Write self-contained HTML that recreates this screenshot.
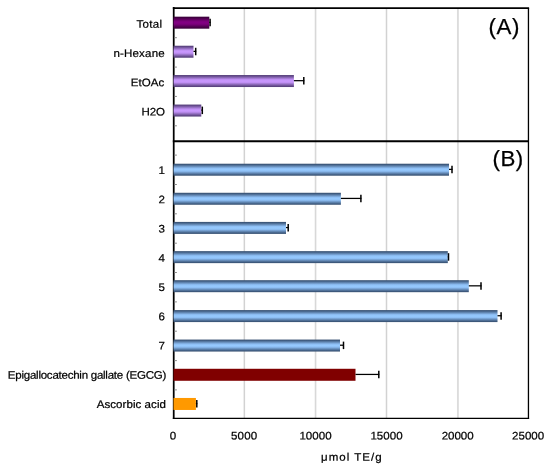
<!DOCTYPE html>
<html lang="en">
<head>
<meta charset="utf-8">
<title>Chart</title>
<style>
html,body{margin:0;padding:0;background:#fff;}
body{width:550px;height:471px;overflow:hidden;}
svg{display:block;}
text{font-family:"Liberation Sans","IPAGothic",sans-serif;fill:#000;stroke:#000;stroke-width:0.22px;}
.lab{font-size:11px;}
.big{font-size:22.3px;stroke-width:0.25px;}
</style>
</head>
<body>
<svg width="550" height="471" viewBox="0 0 550 471">
<defs>
<linearGradient id="blu" x1="0" y1="0" x2="0" y2="1">
<stop offset="0" stop-color="#395272"/><stop offset="0.07" stop-color="#3e5a7e"/><stop offset="0.38" stop-color="#8ebff5"/><stop offset="0.5" stop-color="#96caff"/><stop offset="0.62" stop-color="#8ebff5"/><stop offset="0.93" stop-color="#3e5a7e"/><stop offset="1" stop-color="#395272"/>
</linearGradient>
<linearGradient id="pur" x1="0" y1="0" x2="0" y2="1">
<stop offset="0" stop-color="#56407a"/><stop offset="0.07" stop-color="#5e4684"/><stop offset="0.38" stop-color="#c090f4"/><stop offset="0.5" stop-color="#ca98ff"/><stop offset="0.62" stop-color="#c090f4"/><stop offset="0.93" stop-color="#5e4684"/><stop offset="1" stop-color="#56407a"/>
</linearGradient>
<linearGradient id="tot" x1="0" y1="0" x2="0" y2="1">
<stop offset="0" stop-color="#380038"/><stop offset="0.07" stop-color="#400040"/><stop offset="0.38" stop-color="#7c007c"/><stop offset="0.5" stop-color="#820082"/><stop offset="0.62" stop-color="#7c007c"/><stop offset="0.93" stop-color="#400040"/><stop offset="1" stop-color="#380038"/>
</linearGradient>
</defs>
<rect width="550" height="471" fill="#fff"/>

<g>
<line x1="244.35" y1="8.0" x2="244.35" y2="418.35" stroke="#d2d2d2" stroke-width="1.5"/>
<line x1="315.55" y1="8.0" x2="315.55" y2="418.35" stroke="#d8d8d8" stroke-width="1.6"/>
<line x1="386.50" y1="8.0" x2="386.50" y2="418.35" stroke="#d2d2d2" stroke-width="1.5"/>
<line x1="457.90" y1="8.0" x2="457.90" y2="418.35" stroke="#dcdcdc" stroke-width="1.9"/>
</g>
<path d="M173.72 7.1V419.0" stroke="#000" stroke-width="1.75" fill="none"/>
<g stroke="#8a8a8a" stroke-width="1">
<line x1="174.5" y1="37.7" x2="176.9" y2="37.7"/>
<line x1="174.5" y1="67.1" x2="176.9" y2="67.1"/>
<line x1="174.5" y1="96.4" x2="176.9" y2="96.4"/>
<line x1="174.5" y1="125.8" x2="176.9" y2="125.8"/>
<line x1="174.5" y1="155.1" x2="176.9" y2="155.1"/>
<line x1="174.5" y1="184.5" x2="176.9" y2="184.5"/>
<line x1="174.5" y1="213.8" x2="176.9" y2="213.8"/>
<line x1="174.5" y1="243.2" x2="176.9" y2="243.2"/>
<line x1="174.5" y1="272.5" x2="176.9" y2="272.5"/>
<line x1="174.5" y1="301.9" x2="176.9" y2="301.9"/>
<line x1="174.5" y1="331.2" x2="176.9" y2="331.2"/>
<line x1="174.5" y1="360.6" x2="176.9" y2="360.6"/>
<line x1="174.5" y1="389.9" x2="176.9" y2="389.9"/>
</g>
<rect x="173.52" y="16.68" width="35.78" height="12.0" fill="url(#tot)"/>
<path d="M209.3 22.33H210.6" stroke="#000" stroke-width="1.25" fill="none"/><path d="M210.1 18.73V26.23" stroke="#000" stroke-width="1.5" fill="none"/>
<rect x="173.52" y="45.73" width="19.98" height="12.0" fill="url(#pur)"/>
<path d="M193.5 51.38H196.2" stroke="#000" stroke-width="1.25" fill="none"/><path d="M195.7 47.78V55.28" stroke="#000" stroke-width="1.5" fill="none"/>
<rect x="173.52" y="75.03" width="120.38" height="12.0" fill="url(#pur)"/>
<path d="M293.9 80.68H304.3" stroke="#000" stroke-width="1.25" fill="none"/><path d="M303.8 77.08V84.58" stroke="#000" stroke-width="1.5" fill="none"/>
<rect x="173.52" y="104.55" width="27.78" height="12.0" fill="url(#pur)"/>
<path d="M201.3 110.20H202.8" stroke="#000" stroke-width="1.25" fill="none"/><path d="M202.3 106.60V114.10" stroke="#000" stroke-width="1.5" fill="none"/>
<rect x="173.52" y="163.72" width="275.48" height="12.0" fill="url(#blu)"/>
<path d="M449.0 169.37H452.5" stroke="#000" stroke-width="1.25" fill="none"/><path d="M452.0 165.77V173.27" stroke="#000" stroke-width="1.5" fill="none"/>
<rect x="173.52" y="192.77" width="167.38" height="12.0" fill="url(#blu)"/>
<path d="M340.9 198.42H361.4" stroke="#000" stroke-width="1.25" fill="none"/><path d="M360.9 194.82V202.32" stroke="#000" stroke-width="1.5" fill="none"/>
<rect x="173.52" y="221.91" width="112.48" height="12.0" fill="url(#blu)"/>
<path d="M286.0 227.56H288.7" stroke="#000" stroke-width="1.25" fill="none"/><path d="M288.2 223.96V231.46" stroke="#000" stroke-width="1.5" fill="none"/>
<rect x="173.52" y="251.13" width="274.28" height="12.0" fill="url(#blu)"/>
<path d="M447.8 256.78H449.0" stroke="#000" stroke-width="1.25" fill="none"/><path d="M448.5 253.18V260.68" stroke="#000" stroke-width="1.5" fill="none"/>
<rect x="173.52" y="280.18" width="295.28" height="12.0" fill="url(#blu)"/>
<path d="M468.8 285.83H481.5" stroke="#000" stroke-width="1.25" fill="none"/><path d="M481.0 282.23V289.73" stroke="#000" stroke-width="1.5" fill="none"/>
<rect x="173.52" y="310.08" width="323.98" height="12.0" fill="url(#blu)"/>
<path d="M497.5 315.73H501.6" stroke="#000" stroke-width="1.25" fill="none"/><path d="M501.1 312.13V319.63" stroke="#000" stroke-width="1.5" fill="none"/>
<rect x="173.52" y="339.56" width="166.48" height="12.0" fill="url(#blu)"/>
<path d="M340.0 345.21H344.0" stroke="#000" stroke-width="1.25" fill="none"/><path d="M343.5 341.61V349.11" stroke="#000" stroke-width="1.5" fill="none"/>
<rect x="173.52" y="368.78" width="181.98" height="12.0" fill="#800000"/>
<path d="M355.5 374.43H379.3" stroke="#000" stroke-width="1.25" fill="none"/><path d="M378.8 370.83V378.33" stroke="#000" stroke-width="1.5" fill="none"/>
<rect x="173.52" y="397.96" width="22.38" height="12.0" fill="#ff9900"/>
<path d="M195.9 403.61H197.3" stroke="#000" stroke-width="1.25" fill="none"/><path d="M196.8 400.01V407.51" stroke="#000" stroke-width="1.5" fill="none"/>
<path d="M172.87 8.0H529.1" stroke="#000" stroke-width="1.75" fill="none"/>
<path d="M172.82 141.2H528.45" stroke="#000" stroke-width="2" fill="none"/>
<path d="M528.45 8.0V419.0" stroke="#000" stroke-width="1.3" fill="none"/>
<path d="M172.82 418.35H529.1" stroke="#000" stroke-width="1.3" fill="none"/>
<text id="l0" class="lab" transform="matrix(1.05 0.0006 0 1 136.40 27.70)" letter-spacing="0.329">Total</text>
<text id="l1" class="lab" transform="matrix(1.05 0.0006 0 1 113.42 56.95)" letter-spacing="0.162">n-Hexane</text>
<text id="l2" class="lab" transform="matrix(1.05 0.0006 0 1 130.73 86.20)" letter-spacing="0.036">EtOAc</text>
<text id="l3" class="lab" transform="matrix(1.05 0.0006 0 1 141.50 115.45)" letter-spacing="-0.085">H2O</text>
<text id="l5" class="lab" transform="matrix(1.05 0.0006 0 1 158.40 173.95)" letter-spacing="0.000">1</text>
<text id="l6" class="lab" transform="matrix(1.05 0.0006 0 1 158.40 203.20)" letter-spacing="0.000">2</text>
<text id="l7" class="lab" transform="matrix(1.05 0.0006 0 1 158.40 232.45)" letter-spacing="0.000">3</text>
<text id="l8" class="lab" transform="matrix(1.05 0.0006 0 1 158.40 261.70)" letter-spacing="0.000">4</text>
<text id="l9" class="lab" transform="matrix(1.05 0.0006 0 1 158.40 290.95)" letter-spacing="0.000">5</text>
<text id="l10" class="lab" transform="matrix(1.05 0.0006 0 1 158.40 320.20)" letter-spacing="0.000">6</text>
<text id="l11" class="lab" transform="matrix(1.05 0.0006 0 1 158.40 349.45)" letter-spacing="0.000">7</text>
<text id="l12" class="lab" transform="matrix(1.05 0.0006 0 1 7.87 378.70)" letter-spacing="-0.244">Epigallocatechin gallate (EGCG)</text>
<text id="l13" class="lab" transform="matrix(1.05 0.0006 0 1 96.74 407.95)" letter-spacing="0.045">Ascorbic acid</text>
<text id="x0" class="lab" transform="matrix(1.05 0.0006 0 1 169.83 439.55)" letter-spacing="0.000">0</text>
<text id="x1" class="lab" transform="matrix(1.05 0.0006 0 1 230.95 439.55)" letter-spacing="0.165">5000</text>
<text id="x2" class="lab" transform="matrix(1.05 0.0006 0 1 299.43 439.55)" letter-spacing="0.022">10000</text>
<text id="x3" class="lab" transform="matrix(1.05 0.0006 0 1 370.43 439.55)" letter-spacing="0.022">15000</text>
<text id="x4" class="lab" transform="matrix(1.05 0.0006 0 1 441.70 439.55)" letter-spacing="-0.039">20000</text>
<text id="x5" class="lab" transform="matrix(1.05 0.0006 0 1 512.02 439.55)" letter-spacing="0.017">25000</text>
<text id="xt" class="lab" transform="matrix(1.05 0.0006 0 1 321.07 460.80)" letter-spacing="0.938">μmol TE/g</text>
<text id="ta" class="big" x="488.59" y="33.7" letter-spacing="0.556">(A)</text>
<text id="tb" class="big" x="492.58" y="165.6" letter-spacing="0.384">(B)</text>
</svg>
</body>
</html>
